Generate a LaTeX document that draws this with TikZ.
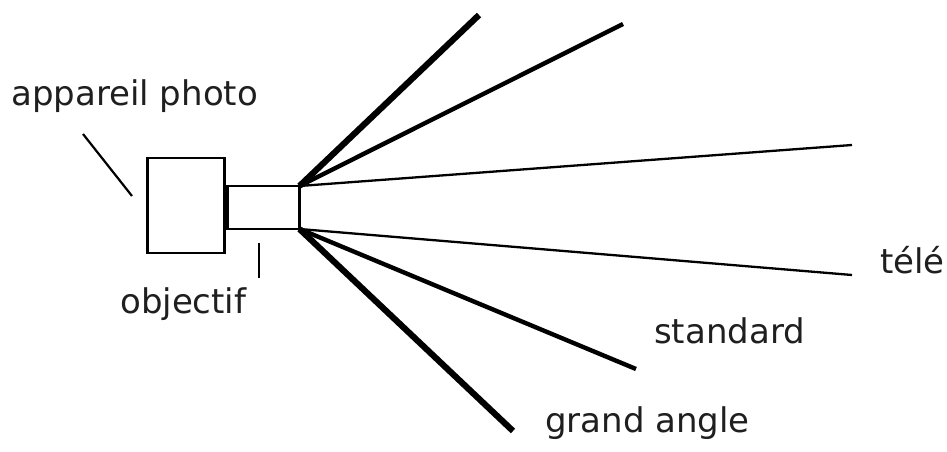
\documentclass[tikz,border=0pt]{standalone}
\usepackage{fontspec}
\setmainfont{DejaVu Sans}
\begin{document}
\begin{tikzpicture}[x=1pt,y=-1pt,
  boxst/.style={draw, line width=2.4pt, inner sep=0pt, outer sep=0pt},
  lbl/.style={anchor=base west, inner sep=0pt, font=\fontsize{34}{40}\selectfont, text=black!88},
  raythick/.style={line width=6.2pt},
  raymid/.style={line width=4.4pt},
  raythin/.style={line width=2.3pt},
  leader/.style={line width=2.2pt}]
\useasboundingbox (0,0) rectangle (947,452);
% camera body and lens
\node[boxst, minimum width=77pt, minimum height=95pt] (body) at (186,205.5) {};
\node[boxst, minimum width=72pt, minimum height=43pt] (lens) at (263.5,207.5) {};
% ray ends
\coordinate (r1) at (479,15);
\coordinate (r2) at (623,24);
\coordinate (r3) at (852,145);
\coordinate (r4) at (852,275);
\coordinate (r5) at (636,369);
\coordinate (r6) at (513,431);
\draw[raythick] (lens.north east) -- (r1);
\draw[raymid] (lens.north east) -- (r2);
\draw[raythin] (lens.north east) -- (r3);
\draw[raythin] (lens.south east) -- (r4);
\draw[raymid] (lens.south east) -- (r5);
\draw[raythick] (lens.south east) -- (r6);
% labels
\node[lbl] (app) at (11,105) {appareil photo};
\node[lbl] (obj) at (120,313) {objectif};
\node[lbl] (tele) at (880,273) {télé};
\node[lbl] (std) at (654,343) {standard};
\node[lbl] (ga) at (545,432) {grand angle};
% leaders
\coordinate (a1) at (83,134);
\coordinate (a2) at (132,196);
\draw[leader] (a1) -- (a2);
\coordinate (o1) at (259,243);
\coordinate (o2) at (259,278);
\draw[leader] (o1) -- (o2);
\end{tikzpicture}
\end{document}
